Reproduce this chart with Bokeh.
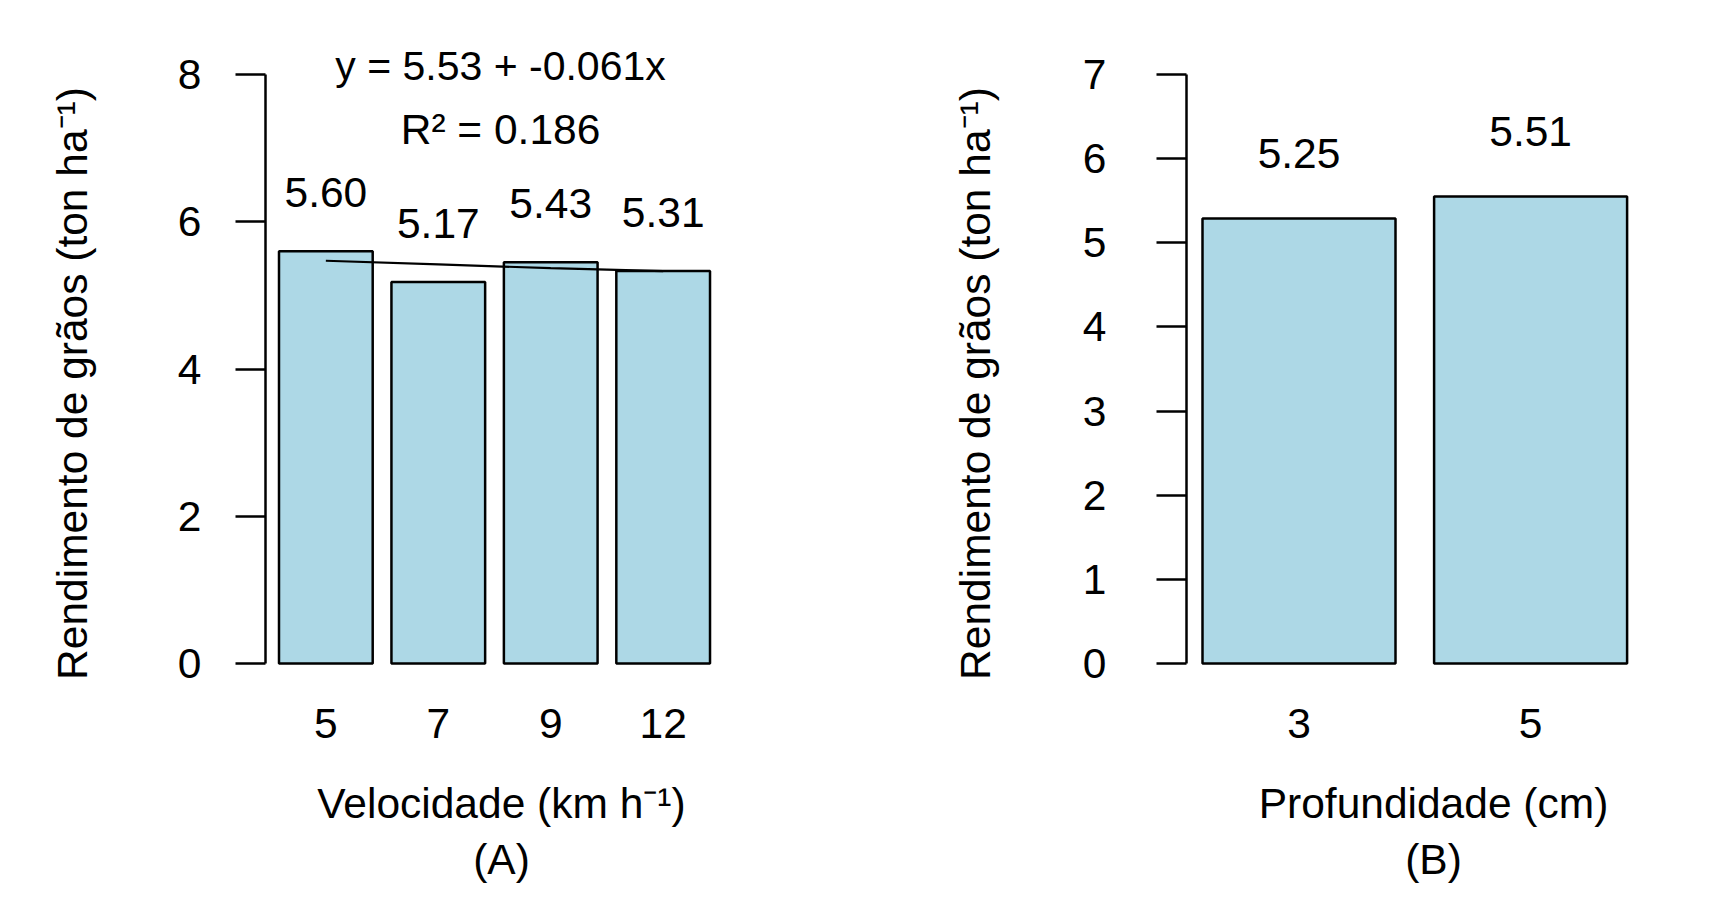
from bokeh.plotting import figure
from bokeh.models import Range1d, FixedTicker, Label, ColumnDataSource
from bokeh.layouts import row
from bokeh.embed import file_html
from bokeh.resources import INLINE
from bokeh.core.properties import value

# ---------------- data ----------------
# Panel A: grain yield by sowing speed
speed_labels = ["5", "7", "9", "12"]
speed_yield = [5.60, 5.18, 5.45, 5.33]
speed_text = ["5.60", "5.17", "5.43", "5.31"]
reg_yield = [5.47, 5.42, 5.37, 5.33]
eq_text = "y = 5.53 + -0.061x"
r2_text = "R\u00b2 = 0.186"
yA_ticks = [0, 2, 4, 6, 8]

# Panel B: grain yield by sowing depth
depth_labels = ["3", "5"]
depth_yield = [5.29, 5.55]
depth_text = ["5.25", "5.51"]
yB_ticks = [0, 1, 2, 3, 4, 5, 6, 7]

y_title = "Rendimento de gr\u00e3os (ton ha\u207b\u00b9)"
xA_title = "Velocidade (km h\u207b\u00b9)\n(A)"
xB_title = "Profundidade (cm)\n(B)"

# ---------------- style ----------------
FONT = "Liberation Sans"
FS = "42.5px"
EQ_FS = "41px"
BAR_FILL = "#ADD8E6"
ORIGIN = 0  # page offset of the layout


def make_panel(fig_x0, width, height, frame_left, frame_right, frame_top, frame_bottom,
               bar_left_px, px_per_x, y0_px, px_per_y, ymax, yticks, label_standoff,
               ytitle_standoff, xtitle_standoff, ytitle, xtitle):
    p = figure(width=width, height=height, output_backend="svg", toolbar_location=None,
               title=None)
    p.min_border_left = frame_left - fig_x0
    p.min_border_right = fig_x0 + width - frame_right
    p.min_border_top = frame_top - ORIGIN
    p.min_border_bottom = ORIGIN + height - frame_bottom
    fw = frame_right - frame_left
    fh = frame_bottom - frame_top
    x0 = 0.2 - (bar_left_px - frame_left) / px_per_x
    p.x_range = Range1d(x0, x0 + fw / px_per_x)
    y0 = -(frame_bottom - y0_px) / px_per_y
    p.y_range = Range1d(y0, y0 + fh / px_per_y)

    p.outline_line_color = None
    p.background_fill_color = "white"
    p.border_fill_color = "white"
    p.xgrid.grid_line_color = None
    p.ygrid.grid_line_color = None

    ya = p.yaxis[0]
    ya.ticker = FixedTicker(ticks=yticks)
    ya.bounds = (0, ymax)
    ya.axis_line_width = 2.5
    ya.axis_line_color = "black"
    ya.major_tick_line_width = 2.5
    ya.major_tick_line_color = "black"
    ya.major_tick_out = 30
    ya.major_tick_in = 0
    ya.minor_tick_line_color = None
    ya.major_label_standoff = label_standoff
    ya.major_label_text_font = FONT
    ya.major_label_text_font_size = FS
    ya.major_label_text_color = "black"
    ya.axis_label = ytitle
    ya.axis_label_standoff = ytitle_standoff
    ya.axis_label_text_font = FONT
    ya.axis_label_text_font_size = FS
    ya.axis_label_text_font_style = "normal"
    ya.axis_label_text_color = "black"

    xa = p.xaxis[0]
    xa.axis_line_color = None
    xa.major_tick_line_color = None
    xa.minor_tick_line_color = None
    xa.major_tick_out = 0
    xa.major_tick_in = 0
    xa.major_label_standoff = -8
    xa.major_label_text_font = FONT
    xa.major_label_text_font_size = FS
    xa.major_label_text_color = "black"
    xa.axis_label = xtitle
    xa.axis_label_standoff = xtitle_standoff
    xa.axis_label_text_font = FONT
    xa.axis_label_text_font_size = FS
    xa.axis_label_text_font_style = "normal"
    xa.axis_label_text_color = "black"
    xa.axis_label_text_line_height = 1.2

    def to_x(px):
        return 0.2 + (px - bar_left_px) / px_per_x

    def to_y(py):
        return (y0_px - py) / px_per_y

    return p, to_x, to_y


def add_text_label(p, x, y, text, size=FS):
    p.add_layout(Label(x=x, y=y, text=text, text_font=FONT, text_font_size=size,
                       text_color="black", text_align="center",
                       text_baseline="middle"))


# ---------------- panel A ----------------
pA, axA, ayA = make_panel(fig_x0=ORIGIN, width=850, height=901,
                          frame_left=265, frame_right=737, frame_top=50, frame_bottom=716,
                          bar_left_px=278.5, px_per_x=93.7, y0_px=663, px_per_y=589 / 8,
                          ymax=8, yticks=yA_ticks, label_standoff=34,
                          ytitle_standoff=79, xtitle_standoff=39,
                          ytitle=y_title, xtitle=xA_title)
xA = [round(0.7 + 1.2 * i, 6) for i in range(len(speed_labels))]
pA.xaxis[0].ticker = FixedTicker(ticks=xA)
pA.xaxis[0].major_label_overrides = {x: s for x, s in zip(xA, speed_labels)}
srcA = ColumnDataSource(dict(x=xA, top=speed_yield, lab=speed_text,
                             ly=[v + 0.80 for v in speed_yield], reg=reg_yield))
pA.vbar(x="x", top="top", bottom=0, width=1.0, source=srcA,
        fill_color=BAR_FILL, line_color="black", line_width=2.5)
pA.line(x="x", y="reg", source=srcA, line_color="black", line_width=2.2)
pA.text(x="x", y="ly", text="lab", source=srcA, text_font=value(FONT),
        text_font_size=value(FS), text_align="center", text_baseline="middle",
        text_color="black")
add_text_label(pA, axA(500), ayA(65.5), eq_text, size=EQ_FS)
add_text_label(pA, axA(500), ayA(129), r2_text)

# ---------------- panel B ----------------
pB, axB, ayB = make_panel(fig_x0=ORIGIN + 850, width=849, height=901,
                          frame_left=1186, frame_right=1680, frame_top=50, frame_bottom=716,
                          bar_left_px=1202, px_per_x=193, y0_px=663, px_per_y=589 / 7,
                          ymax=7, yticks=yB_ticks, label_standoff=50,
                          ytitle_standoff=81, xtitle_standoff=39,
                          ytitle=y_title, xtitle=xB_title)
xB = [round(0.7 + 1.2 * i, 6) for i in range(len(depth_labels))]
pB.xaxis[0].ticker = FixedTicker(ticks=xB)
pB.xaxis[0].major_label_overrides = {x: s for x, s in zip(xB, depth_labels)}
srcB = ColumnDataSource(dict(x=xB, top=depth_yield, lab=depth_text,
                             ly=[v + 0.77 for v in depth_yield]))
pB.vbar(x="x", top="top", bottom=0, width=1.0, source=srcB,
        fill_color=BAR_FILL, line_color="black", line_width=2.5)
pB.text(x="x", y="ly", text="lab", source=srcB, text_font=value(FONT),
        text_font_size=value(FS), text_align="center", text_baseline="middle",
        text_color="black")

layout = row(pA, pB)
open("out.html", "w").write(file_html(layout, INLINE))
